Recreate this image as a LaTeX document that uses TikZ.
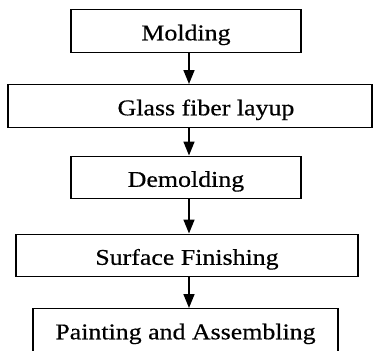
\documentclass[tikz,border=0pt]{standalone}
\usepackage{fontspec}
\setmainfont{Liberation Serif}[FakeStretch=1.15,FakeBold=0.5]
\usepackage{tikz}
\usetikzlibrary{arrows.meta,calc}

\begin{document}
\begin{tikzpicture}[x=1bp,y=-1bp]
  \tikzstyle{stage} = [draw,line width=1.1bp,minimum height=42.5bp,inner sep=0pt,
                       anchor=north,text height=20bp,text depth=1bp,
                       font=\fontsize{22.5bp}{26bp}\selectfont]
  \tikzstyle{flow} = [line width=1.6bp,-{Triangle[width=11bp,length=14bp]}]
  %
  \useasboundingbox (0,0) rectangle (376,351);
  \clip (0,0) rectangle (376,351);
  % Process steps, top to bottom.
  \node[stage,minimum width=230bp] (molding)  at (186,9)   {Molding};
  \node[stage,minimum width=364bp] (layup)    at (190,84)  {\hspace*{32bp}Glass fiber layup};
  \node[stage,minimum width=230bp] (demold)   at (186,155.5) {Demolding};
  \node[stage,minimum width=342bp] (finish)   at (187,233.5) {Surface Finishing};
  \node[stage,minimum width=305bp] (paint)    at (185.5,308) {Painting and Assembling};
  % Arrows run down one common line.
  \coordinate (spine) at (189,0);
  \draw[flow] (molding.south -| spine) -- (layup.north -| spine);
  \draw[flow] (layup.south -| spine)   -- (demold.north -| spine);
  \draw[flow] (demold.south -| spine)  -- (finish.north -| spine);
  \draw[flow] (finish.south -| spine)  -- (paint.north -| spine);
  %
\end{tikzpicture}
\end{document}
